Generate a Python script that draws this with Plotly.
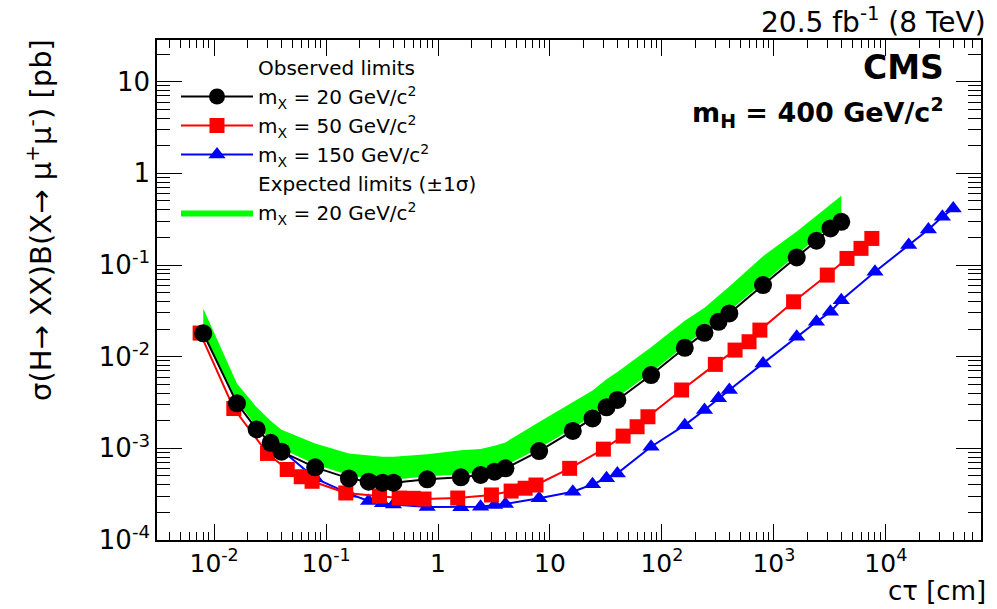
import numpy as np
import plotly.graph_objects as go

# ---------------- data ----------------
x_obs20 = [0.008, 0.016, 0.024, 0.032, 0.04, 0.08, 0.16, 0.24, 0.32, 0.4, 0.8, 1.6, 2.4, 3.2, 4,
           8, 16, 24, 32, 40, 80, 160, 240, 320, 400, 800, 1600, 2400, 3200, 4000]
y_obs20 = [0.0180, 0.0031, 0.00161, 0.00115, 0.00092, 0.00062, 0.00047, 0.000433, 0.000422, 0.000422,
           0.000459, 0.000483, 0.000512, 0.000556, 0.000605, 0.000935, 0.00155, 0.00212, 0.0028, 0.00337,
           0.0063, 0.0125, 0.0182, 0.024, 0.0296, 0.0604, 0.121, 0.184, 0.251, 0.296]

x_obs50 = [0.0075, 0.015, 0.03, 0.045, 0.06, 0.075, 0.15, 0.3, 0.45, 0.6, 0.75, 1.5, 3, 4.5, 6, 7.5,
           15, 30, 45, 60, 75, 150, 300, 450, 600, 750, 1500, 3000, 4500, 6000, 7500]
y_obs50 = [0.0181, 0.00272, 0.00088, 0.000588, 0.00049, 0.000437, 0.000326, 0.000302, 0.000287, 0.000285,
           0.00028, 0.000287, 0.00031, 0.000342, 0.000367, 0.000398, 0.000605, 0.00098, 0.00136, 0.00172,
           0.00221, 0.00433, 0.00824, 0.0118, 0.01456, 0.0195, 0.0397, 0.0777, 0.118, 0.152, 0.195]

x_obs150 = [0.04, 0.08, 0.16, 0.24, 0.32, 0.4, 0.8, 1.6, 2.4, 3.2, 4, 8, 16, 24, 32, 40, 80, 160, 240,
            320, 400, 800, 1600, 2400, 3200, 4000, 8000, 16000, 24000, 32000, 40000]
y_obs150 = [0.000957, 0.000471, 0.00032, 0.000266, 0.000251, 0.000244, 0.000229, 0.000228, 0.000231,
            0.000241, 0.000247, 0.000285, 0.000336, 0.000405, 0.000471, 0.000533, 0.00104, 0.00179,
            0.00262, 0.00351, 0.00433, 0.00845, 0.0165, 0.024, 0.0309, 0.0414, 0.0844, 0.165, 0.244,
            0.336, 0.414]

x_exp20 = x_obs20
y_exp20_hi = [0.0336, 0.0051, 0.0028, 0.0020, 0.0016, 0.00113, 0.00088, 0.000832, 0.000811, 0.000811,
              0.00086, 0.000951, 0.000984, 0.00107, 0.00116, 0.00194, 0.00321, 0.00428, 0.00566, 0.00681,
              0.0127, 0.0246, 0.0341, 0.0461, 0.0583, 0.125, 0.232, 0.345, 0.459, 0.569]
y_exp20_lo = [0.0185, 0.0033, 0.00172, 0.00123, 0.00099, 0.00067, 0.00051, 0.00047, 0.000455, 0.000455,
              0.000495, 0.00052, 0.00055, 0.0006, 0.00065, 0.0010, 0.00166, 0.00227, 0.0030, 0.0036,
              0.0067, 0.0133, 0.0195, 0.0257, 0.0316, 0.0645, 0.129, 0.196, 0.268, 0.315]

x_major = [0.01, 0.1, 1, 10, 100, 1000, 10000]
x_major_text = ["10<sup>-2</sup>", "10<sup>-1</sup>", "1", "10", "10<sup>2</sup>", "10<sup>3</sup>", "10<sup>4</sup>"]
y_major = [1e-4, 1e-3, 1e-2, 1e-1, 1, 10]
y_major_text = ["10<sup>-4</sup>", "10<sup>-3</sup>", "10<sup>-2</sup>", "10<sup>-1</sup>", "1", "10"]

label_mx20 = "m<sub>X</sub> = 20 GeV/c<sup>2</sup>"
label_mx50 = "m<sub>X</sub> = 50 GeV/c<sup>2</sup>"
label_mx150 = "m<sub>X</sub> = 150 GeV/c<sup>2</sup>"

# ---------------- figure ----------------
FONT = "DejaVu Sans"
W, H = 997, 609
L, R, T, B = 157, 16, 40, 69

x_minor = [m * 10.0 ** k for k in range(-3, 5) for m in range(2, 10)]
y_minor = [m * 10.0 ** k for k in range(-4, 2) for m in range(2, 10)]

fig = go.Figure()

# expected band
fig.add_trace(go.Scatter(
    x=list(x_exp20) + list(x_exp20)[::-1],
    y=list(y_exp20_hi) + list(y_exp20_lo)[::-1],
    mode="lines", fill="toself", fillcolor="#00ff00",
    line=dict(width=0, color="#00ff00"),
    name=label_mx20, legendrank=6, hoverinfo="skip"))

# legend headers (placeholders)
fig.add_trace(go.Scatter(x=[None], y=[None], mode="markers",
                         marker=dict(size=10, color="rgba(0,0,0,0)"),
                         name="Observed limits", legendrank=1))
fig.add_trace(go.Scatter(x=[None], y=[None], mode="markers",
                         marker=dict(size=10, color="rgba(0,0,0,0)"),
                         name="Expected limits (±1σ)", legendrank=5))

fig.add_trace(go.Scatter(x=x_obs150, y=y_obs150, mode="lines+markers",
                         line=dict(color="#0000ff", width=2),
                         marker=dict(symbol="triangle-up", size=15, color="#0000ff"),
                         name=label_mx150, legendrank=4))
fig.add_trace(go.Scatter(x=x_obs50, y=y_obs50, mode="lines+markers",
                         line=dict(color="#ff0000", width=2),
                         marker=dict(symbol="square", size=15, color="#ff0000"),
                         name=label_mx50, legendrank=3))
fig.add_trace(go.Scatter(x=x_obs20, y=y_obs20, mode="lines+markers",
                         line=dict(color="#000000", width=2),
                         marker=dict(symbol="circle", size=18, color="#000000"),
                         name=label_mx20, legendrank=2))

axis_common = dict(
    type="log", showgrid=False, zeroline=False,
    showline=True, linecolor="black", linewidth=1.5, mirror="ticks",
    ticks="inside", tickcolor="black", tickwidth=1.2,
    tickmode="array",
)

fig.update_xaxes(**axis_common, range=[-2.51, 4.85],
                 tickfont=dict(family=FONT, size=25, color="black"),
                 tickvals=x_major, ticktext=x_major_text, ticklen=16,
                 minor=dict(tickmode="array", tickvals=x_minor, ticks="inside",
                            ticklen=8, tickcolor="black", tickwidth=1.2))
fig.update_yaxes(**axis_common, range=[-4, 1.455],
                 tickfont=dict(family=FONT, size=26, color="black"),
                 tickvals=y_major, ticktext=y_major_text, ticklen=25,
                 minor=dict(tickmode="array", tickvals=y_minor, ticks="inside",
                            ticklen=13, tickcolor="black", tickwidth=1.2))

def px2paper_x(px):
    return (px - L) / (W - L - R)

def px2paper_y(py):
    return (H - B - py) / (H - T - B)

ann = [
    dict(text="20.5 fb<sup>-1</sup> (8 TeV)", x=px2paper_x(988), y=px2paper_y(21),
         xanchor="right", yanchor="middle", font=dict(family=FONT, size=28, color="black")),
    dict(text="<b>CMS</b>", x=px2paper_x(946), y=px2paper_y(67),
         xanchor="right", yanchor="middle", font=dict(family=FONT, size=33, color="black")),
    dict(text="<b>m<sub>H</sub> = 400 GeV/c<sup>2</sup></b>", x=px2paper_x(946), y=px2paper_y(112),
         xanchor="right", yanchor="middle", font=dict(family=FONT, size=27, color="black")),
    dict(text="cτ [cm]", x=px2paper_x(988), y=px2paper_y(591),
         xanchor="right", yanchor="middle", font=dict(family=FONT, size=26, color="black")),
    dict(text="σ(H→ XX)B(X→ μ<sup>+</sup>μ<sup>-</sup>) [pb]", textangle=-90,
         x=px2paper_x(39), y=px2paper_y(37),
         xanchor="center", yanchor="top", font=dict(family=FONT, size=29, color="black")),
]
for a in ann:
    a.update(xref="paper", yref="paper", showarrow=False)

fig.update_layout(
    width=W, height=H,
    margin=dict(l=L, r=R, t=T, b=B, pad=0),
    paper_bgcolor="white", plot_bgcolor="white",
    annotations=ann,
    showlegend=True,
    legend=dict(x=px2paper_x(176), y=px2paper_y(48), xanchor="left", yanchor="top",
                bgcolor="rgba(0,0,0,0)", borderwidth=0,
                font=dict(family=FONT, size=20, color="black"),
                itemwidth=72, tracegroupgap=0, traceorder="normal"),
)

fig.write_html("out.html")
